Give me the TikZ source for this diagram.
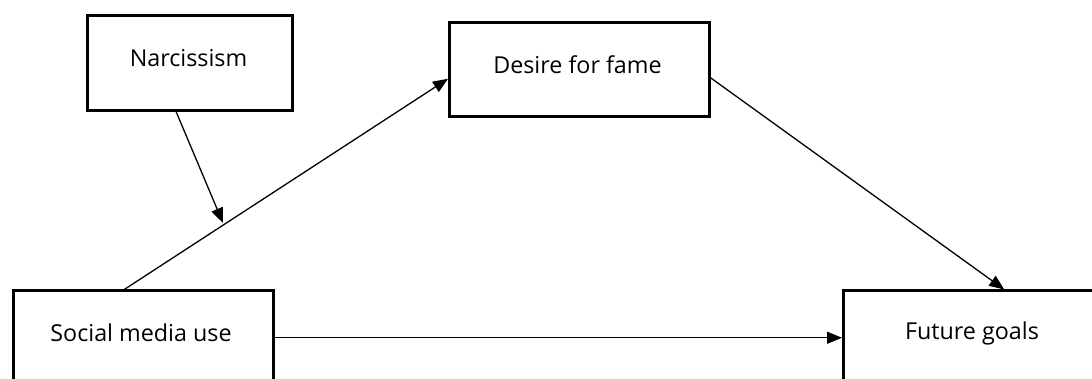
\documentclass[tikz,border=0pt]{standalone}
\usepackage{fontspec}
\setmainfont{Open Sans}
\usetikzlibrary{arrows.meta,calc}
\begin{document}
\begin{tikzpicture}[x=1pt,y=1pt,
  box/.style={draw=black,line width=2.5pt,rectangle,inner sep=0pt,anchor=south west},
  lbl/.style={font=\fontsize{23.3}{28}\selectfont,inner sep=0pt},
  arr/.style={line width=1.3pt,-{Triangle[length=15pt,width=12pt]}}]
\useasboundingbox (0,0) rectangle (1092,379);
\begin{scope}
\clip (0,0) rectangle (1092,379);
% boxes
\node[box,minimum width=205pt,minimum height=95pt] (narc) at (86,267) {};
\node[box,minimum width=260pt,minimum height=94pt] (desire) at (448,261) {};
\node[box,minimum width=260pt,minimum height=94pt] (social) at (12,-7) {};
\node[box,minimum width=268pt,minimum height=94pt] (future) at (842,-7) {};
% labels
\node[lbl] (narc-t) at (188.5,321) {Narcissism};
\node[lbl] (desire-t) at (577.5,314) {Desire for fame};
\node[lbl] (social-t) at (141,46) {Social media use};
\node[lbl] (future-t) at (972,46) {Future goals};
% connectors
\coordinate (mod) at (223,156);
\draw[arr] (social.east) -- (future.west);
\draw[arr] ([xshift=-19pt]social.north) -- ([yshift=-9pt]desire.west);
\draw[arr] ([yshift=-8pt]desire.east) -- ([xshift=27pt]future.north);
\draw[arr] ([xshift=-13.5pt]narc.south) -- (mod);
\end{scope}
\end{tikzpicture}
\end{document}
